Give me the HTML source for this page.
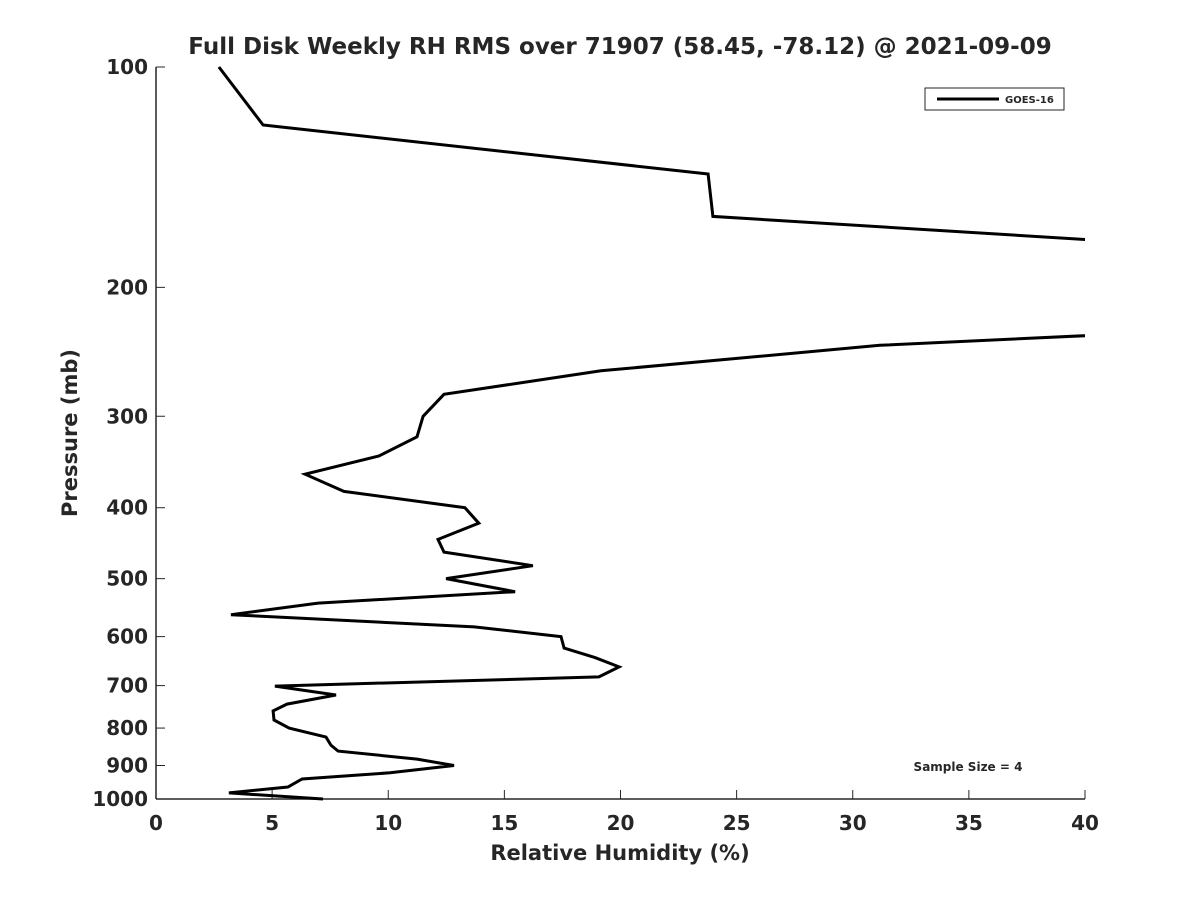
<!DOCTYPE html>
<html><head><meta charset="utf-8"><style>
body{margin:0;background:#fff}
svg text{font-family:"DejaVu Sans","Liberation Sans",sans-serif;font-weight:bold;fill:#262626}
</style></head><body>
<svg id="chart" width="1200" height="900">
<defs><clipPath id="plotclip"><rect x="156" y="60" width="929" height="745"/></clipPath></defs>
<text x="620" y="54" text-anchor="middle" font-size="23">Full Disk Weekly RH RMS over 71907 (58.45, -78.12) @ 2021-09-09</text>
<g id="axes"></g>
<g id="series" clip-path="url(#plotclip)"></g>
<text x="620" y="860" text-anchor="middle" font-size="21">Relative Humidity (%)</text>
<text transform="translate(77,433) rotate(-90)" text-anchor="middle" font-size="21">Pressure (mb)</text>
<g>
<rect x="925" y="88" width="139" height="22" fill="#fff" stroke="#262626" stroke-width="1"/>
<line x1="937" y1="99" x2="999" y2="99" stroke="#000" stroke-width="3"/>
<text x="1005" y="103" font-size="10">GOES-16</text>
</g>
<text x="968" y="771" text-anchor="middle" font-size="12" fill="#000">Sample Size = 4</text>
</svg>
<script>
const xTicks=[0,5,10,15,20,25,30,35,40];
const yTicks=[100,200,300,400,500,600,700,800,900,1000];
const rhValues=[2.71,4.61,23.77,23.98,50,50,31.17,19.16,12.4,11.5,11.24,9.6,6.42,8.09,13.3,13.9,12.14,12.4,16.23,12.49,15.46,6.98,3.23,13.7,17.44,17.57,18.9,19.94,19.07,5.12,7.75,5.64,5.04,5.08,5.73,7.32,7.53,7.84,11.24,12.83,10.08,6.29,5.68,3.14,7.19];
const pressures=[100,120,140,160,180,225,240,260,280,300,320,340,360,380,400,420,442,460,480,500,521,540,560,582,600,622,641,660,681,701,721,742,758,780,800,823,844,860,882,900,921,939,963,981,1000];
const X=v=>156+v*(929/40);
const Y=p=>67+(Math.log10(p)-2)*732;
const NS="http://www.w3.org/2000/svg";
const axes=document.getElementById('axes');
function mk(tag,attrs,parent){const e=document.createElementNS(NS,tag);for(const k in attrs)e.setAttribute(k,attrs[k]);parent.appendChild(e);return e;}
let l=mk('line',{x1:156,y1:67,x2:156,y2:799,stroke:'#262626','stroke-width':1.5},axes);


l=mk('line',{x1:156,y1:799,x2:1085,y2:799,stroke:'#262626','stroke-width':1.5},axes);


xTicks.forEach(v=>{
 const t=mk('line',{x1:X(v),y1:799,x2:X(v),y2:790,stroke:'#262626'},axes);
 
 
 const tx=mk('text',{x:X(v),y:830,'text-anchor':'middle','font-size':20},axes);
 tx.textContent=v;
 
 
});
yTicks.forEach(p=>{
 const t=mk('line',{x1:156,y1:Y(p),x2:165,y2:Y(p),stroke:'#262626'},axes);
 
 
 const tx=mk('text',{x:148,y:Y(p)+7,'text-anchor':'end','font-size':20},axes);
 tx.textContent=p;
 
 
});
const pts=rhValues.map((v,i)=>X(v).toFixed(1)+','+Y(pressures[i]).toFixed(1)).join(' ');
const pl=mk('polyline',{points:pts,fill:'none',stroke:'#000','stroke-width':3,'stroke-linejoin':'miter'},document.getElementById('series'));


</script>
</body></html>
